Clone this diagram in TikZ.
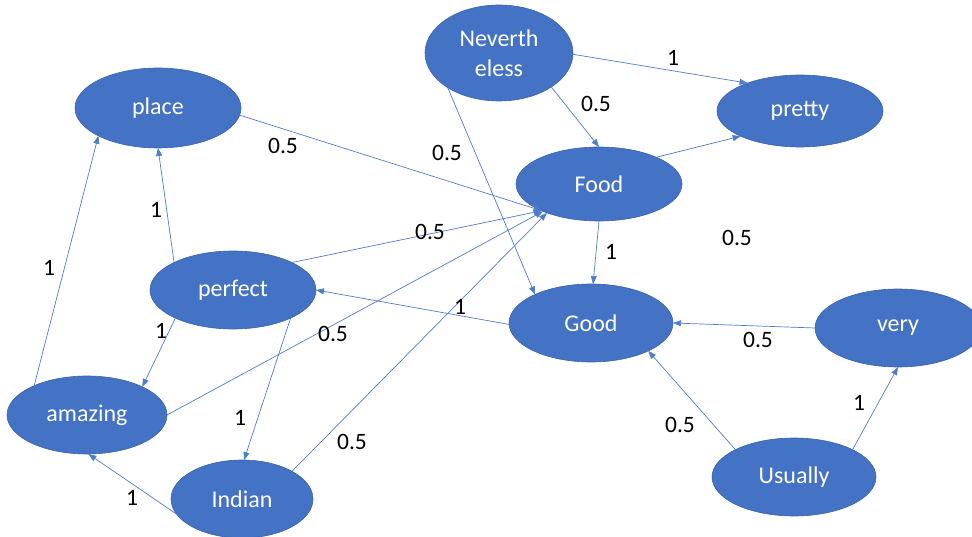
\documentclass[tikz,border=0pt]{standalone}
\usepackage{fontspec}
\setmainfont{Carlito}
\usetikzlibrary{shapes.geometric, arrows.meta}
\definecolor{wordfill}{HTML}{4472C4}
\definecolor{wordedge}{HTML}{3A63AC}
\definecolor{linkcol}{HTML}{4F7DCC}

\begin{document}
\begin{tikzpicture}[x=1pt, y=-1pt,
    word/.style={ellipse, draw=wordedge, line width=0.6pt, fill=wordfill, text=white,
        inner sep=0pt, outer sep=0pt, minimum width=166pt, minimum height=78pt,
        align=center, font=\fontsize{24}{30}\selectfont},
    link/.style={draw=linkcol, line width=0.7pt, -{Triangle[length=8pt, width=6pt]}},
    weight/.style={text=black, inner sep=0pt, font=\fontsize{23.5}{25}\selectfont}]
\useasboundingbox (0,0) rectangle (972,537);

% words
\node[word, minimum height=80pt] (place) at (158,108) {place};
\node[word, minimum width=148pt, minimum height=96pt] (nev) at (499,53) {Neverth\\eless};
\node[word, minimum height=72pt] (pretty) at (800,111) {pretty};
\node[word, minimum height=74pt] (food) at (599,184) {Food};
\node[word] (perfect) at (233,290) {perfect};
\node[word, minimum width=164pt] (good) at (591,323) {Good};
\node[word] (very) at (898,328) {very};
\node[word, minimum width=160pt] (amazing) at (87,415) {amazing};
\node[word, minimum width=142pt] (indian) at (242,499) {Indian};
\node[word, minimum width=164pt] (usually) at (794,477) {Usually};

% links
\draw[link] (nev.-1) -- (pretty.152);
\draw[link] (nev.-33) -- (food.90);
\draw[link] (nev.-146) -- (good.153);
\draw[link] (food.25) -- (pretty.-157);
\draw[link] (place.-5) -- (food.205);
\draw[link] (perfect.25) -- (food.205);
\draw[link] (amazing.0) -- (food.206);
\draw[link] (indian.29) -- (food.209);
\draw[link] (food.-90) -- (good.87);
\draw[link] (good.181) -- (perfect.0);
\draw[link] (perfect.155) -- (place.-90);
\draw[link] (perfect.206) -- (amazing.27);
\draw[link] (perfect.-26) -- (indian.87);
\draw[link] (amazing.151) -- (place.205);
\draw[link] (indian.193) -- (amazing.-88);
\draw[link] (very.180) -- (good.0);
\draw[link] (usually.155) -- (good.-26);
\draw[link] (usually.25) -- (very.-90);

% weights
\node[weight] (w1) at (673,58) {1};
\node[weight] (w2) at (596,104) {0.5};
\node[weight] (w3) at (447,153) {0.5};
\node[weight] (w4) at (283,146) {0.5};
\node[weight] (w5) at (156,210) {1};
\node[weight] (w6) at (49,268) {1};
\node[weight] (w7) at (430,232) {0.5};
\node[weight] (w8) at (460,307) {1};
\node[weight] (w9) at (333,334) {0.5};
\node[weight] (w10) at (161,331) {1};
\node[weight] (w11) at (240,418) {1};
\node[weight] (w12) at (352,442) {0.5};
\node[weight] (w13) at (132,498) {1};
\node[weight] (w14) at (611,252) {1};
\node[weight] (w15) at (737,238) {0.5};
\node[weight] (w16) at (758,340) {0.5};
\node[weight] (w17) at (680,425) {0.5};
\node[weight] (w18) at (859,403) {1};

\end{tikzpicture}
\end{document}
